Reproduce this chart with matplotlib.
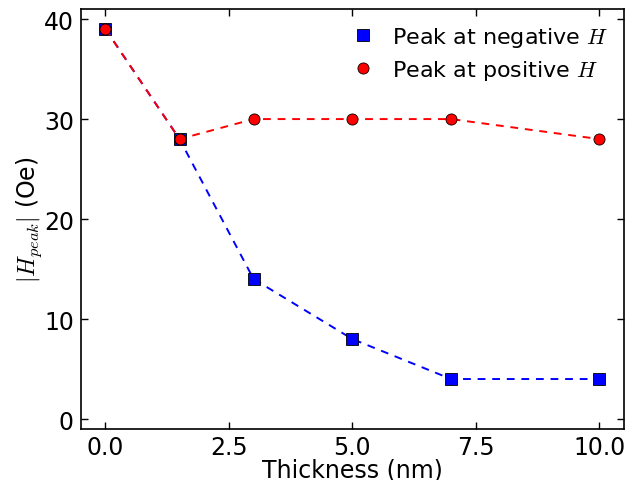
import matplotlib
matplotlib.use("Agg")
import matplotlib.pyplot as plt

plt.rcParams['mathtext.fontset'] = 'cm'

thickness = [0, 1.5, 3, 5, 7, 10]
peak_negative = [39, 28, 14, 8, 4, 4]
peak_positive = [39, 28, 30, 30, 30, 28]

fig = plt.figure(figsize=(6.36, 4.81), dpi=100)
ax = fig.add_axes([0.127, 0.106, 0.854, 0.873])

ax.plot(thickness, peak_negative, linestyle=(0, (4, 3.5)), color='blue', lw=1.4)
ax.plot(thickness, peak_negative, 's', color='blue', mec='black', ms=8, mew=0.6,
        linestyle='none', label='Peak at negative $H$')
ax.plot(thickness, peak_positive, linestyle=(0, (4, 3.5)), color='red', lw=1.4)
ax.plot(thickness, peak_positive, 'o', color='red', mec='black', ms=8, mew=0.6,
        linestyle='none', label='Peak at positive $H$')

ax.set_xlim(-0.5, 10.5)
ax.set_ylim(-1, 41)
ax.set_xticks([0, 2.5, 5, 7.5, 10])
ax.set_xticklabels(['0.0', '2.5', '5.0', '7.5', '10.0'])
ax.set_yticks([0, 10, 20, 30, 40])
ax.tick_params(direction='in', top=True, right=True, labelsize=17, length=5, width=1, pad=5)
ax.tick_params(axis='x', pad=4)
for s in ax.spines.values():
    s.set_linewidth(1.2)

ax.set_xlabel('Thickness (nm)', fontsize=17, labelpad=-1)
ax.set_ylabel(r'$|H_{peak}|$ (Oe)', fontsize=17, labelpad=0)

ax.legend(loc='upper right', frameon=False, numpoints=1, fontsize=16,
          handletextpad=0.3, borderaxespad=0.3, labelspacing=0.4)

fig.savefig('out.png', dpi=100)
